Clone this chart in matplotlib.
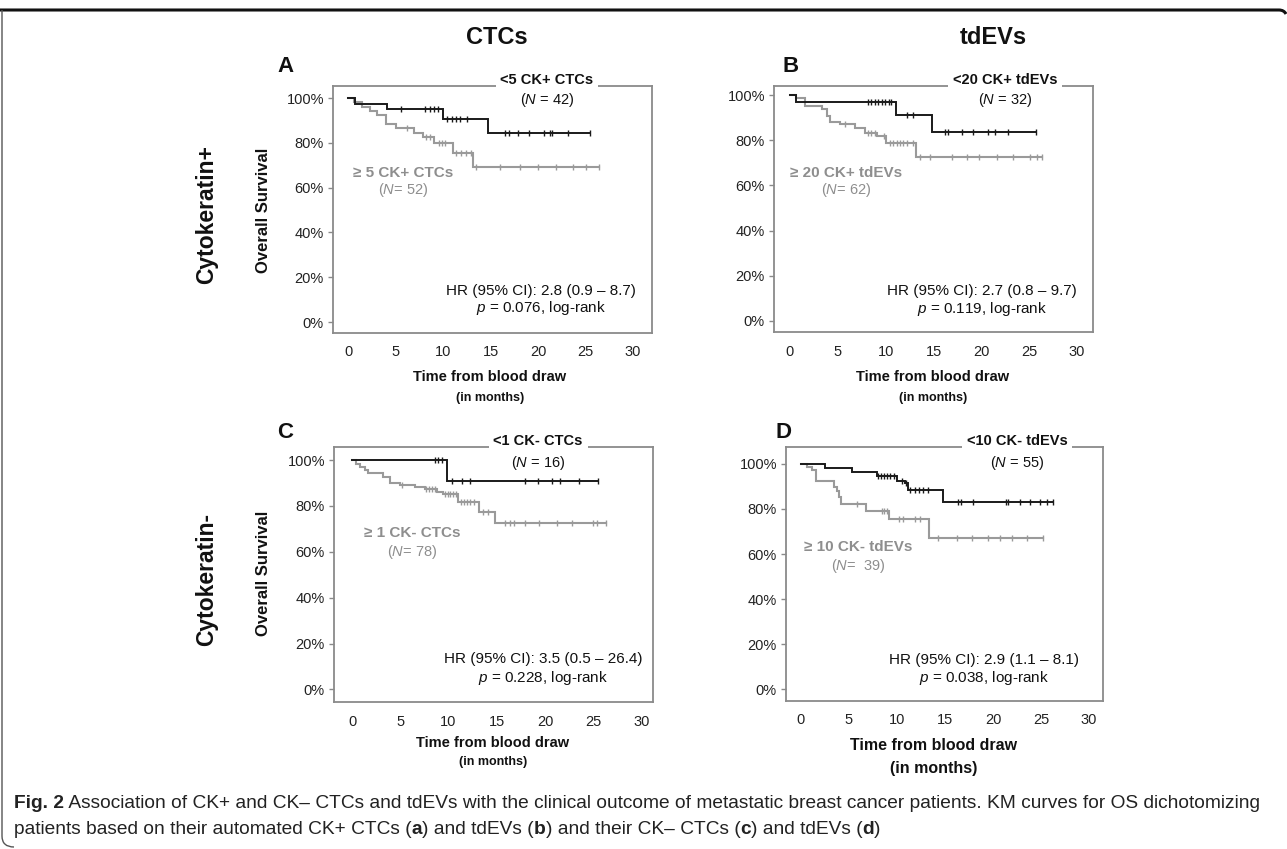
import numpy as np
import matplotlib
matplotlib.use('Agg')
import matplotlib.pyplot as plt
from matplotlib import font_manager
from matplotlib.path import Path
from matplotlib.patches import PathPatch
from matplotlib.lines import Line2D

# ---------------- data ----------------
x_ticks = [0, 5, 10, 15, 20, 25, 30]
y_ticks = [0, 20, 40, 60, 80, 100]
y_tick_labels = ['0%', '20%', '40%', '60%', '80%', '100%']

# Panel A (CK+ CTCs)
A_low_t = [0, 0.7, 4.1, 10.0, 14.7, 25.5]
A_low_s = [100, 97.4, 95.2, 90.7, 84.3, 84.3]
A_low_c = [5.6, 8.1, 8.6, 9.0, 9.5, 10.4, 10.9, 11.4, 11.8, 12.5, 16.5, 16.9, 17.9,
           19.1, 20.6, 21.3, 21.5, 23.2, 25.5]
A_high_t = [0, 0.6, 1.5, 2.3, 3.0, 4.0, 5.1, 6.9, 7.9, 9.1, 11.1, 13.2, 26.4]
A_high_s = [100, 98.1, 96.2, 94.2, 92.3, 88.5, 86.5, 84.6, 82.7, 80.0, 75.3, 69.3, 69.3]
A_high_c = [6.2, 8.2, 8.6, 9.6, 9.9, 10.2, 11.4, 11.9, 12.4, 12.9, 13.5, 16.0, 18.1,
            20.0, 21.9, 23.7, 25.1, 26.4]

# Panel B (CK+ tdEVs)
B_low_t = [0, 0.6, 11.1, 14.8, 25.7]
B_low_s = [100, 96.9, 91.0, 83.6, 83.6]
B_low_c = [8.2, 8.5, 8.9, 9.2, 9.6, 9.9, 10.3, 10.6, 12.2, 12.9, 16.2, 16.5, 18.0,
           19.1, 20.7, 21.4, 22.8, 25.7]
B_high_t = [0, 0.6, 1.6, 3.3, 3.9, 4.2, 5.2, 6.8, 7.8, 9.1, 10.0, 13.2, 26.3]
B_high_s = [100, 98.5, 95.1, 93.7, 90.7, 88.2, 87.0, 85.3, 83.3, 81.9, 78.9, 72.7, 72.7]
B_high_c = [5.8, 8.2, 8.5, 8.9, 9.8, 10.4, 10.8, 11.2, 11.5, 11.8, 12.2, 12.9, 13.6,
            14.6, 16.9, 18.5, 19.7, 21.6, 23.3, 25.1, 25.8, 26.3]

# Panel C (CK- CTCs)
C_low_t = [0, 9.8, 25.5]
C_low_s = [100, 90.9, 90.9]
C_low_c = [8.6, 8.9, 9.3, 10.4, 11.4, 12.2, 17.9, 19.3, 20.7, 21.6, 23.5, 25.5]
C_high_t = [0, 0.4, 0.8, 1.35, 1.7, 3.25, 3.9, 5.0, 6.5, 7.6, 8.8, 9.4, 11.0, 13.2, 14.8, 26.3]
C_high_s = [100, 98.5, 97.1, 95.6, 94.5, 92.7, 89.8, 89.1, 88.1, 87.2, 86.2, 85.0, 81.8,
            77.5, 72.7, 72.7]
C_high_c = [5.2, 7.7, 8.0, 8.3, 8.6, 9.6, 9.9, 10.2, 10.5, 10.8, 11.3, 11.6, 11.9, 12.2,
            12.6, 13.6, 14.1, 15.9, 16.4, 16.8, 17.9, 19.4, 21.2, 22.8, 25.0, 25.4, 26.3]

# Panel D (CK- tdEVs)
D_low_t = [0, 2.5, 5.3, 7.9, 10.0, 10.8, 11.1, 14.8, 26.3]
D_low_s = [100, 98.2, 96.4, 94.6, 92.6, 91.4, 88.4, 82.9, 82.9]
D_low_c = [8.0, 8.3, 8.6, 9.0, 9.3, 9.7, 10.5, 10.9, 11.4, 11.9, 12.3, 12.7, 13.2, 16.4,
           16.7, 17.9, 21.4, 21.6, 22.8, 23.9, 24.9, 25.6, 26.3]
D_high_t = [0, 0.6, 1.1, 1.6, 3.4, 3.8, 4.0, 4.2, 6.8, 9.2, 13.3, 25.2]
D_high_s = [100, 98.8, 97.3, 92.2, 89.8, 88.1, 85.1, 82.0, 79.3, 75.4, 67.0, 67.0]
D_high_c = [5.8, 8.4, 8.7, 9.0, 10.2, 10.6, 11.9, 12.4, 14.3, 16.2, 17.8, 19.5, 20.7,
            22.0, 23.5, 25.2]

low_labels = ['<5 CK+ CTCs', '<20 CK+ tdEVs', '<1 CK- CTCs', '<10 CK- tdEVs']
low_n = ['42', '32', '16', '55']
high_labels = ['\u2265 5 CK+ CTCs', '\u2265 20 CK+ tdEVs', '\u2265 1 CK- CTCs', '\u2265 10 CK- tdEVs']
high_n = ['52', '62', '78', ' 39']
hr_texts = ['HR (95% CI): 2.8 (0.9 \u2013 8.7)', 'HR (95% CI): 2.7 (0.8 \u2013 9.7)',
            'HR (95% CI): 3.5 (0.5 \u2013 26.4)', 'HR (95% CI): 2.9 (1.1 \u2013 8.1)']
p_texts = ['0.076', '0.119', '0.228', '0.038']
panel_letters = ['A', 'B', 'C', 'D']

# ---------------- style ----------------
W, H = 1287, 849
plt.rcParams['font.family'] = ['Liberation Sans', 'DejaVu Sans']
plt.rcParams['mathtext.fontset'] = 'custom'
plt.rcParams['mathtext.rm'] = 'Liberation Sans'
plt.rcParams['mathtext.it'] = 'Liberation Sans:italic'
plt.rcParams['mathtext.bf'] = 'Liberation Sans:bold'

BLACK = '#1a1a1a'
GRAY = '#9a9a9a'
GRAYTXT = '#8e8e8e'
SPINE = '#8a8a8a'

fig = plt.figure(figsize=(W / 100, H / 100), dpi=100)


def fx(x):
    return x / W


def fy(y):
    return 1 - y / H


# panel geometry in pixels: left, right, top, bottom ; xlim ; ylim
geo = [
    dict(box=(333, 652, 86, 333), xlim=(-1.58, 32.0), ylim=(-4.9, 105.4),
         title_x=0.671, gray_xy=(0.219, 0.648, 0.579), hr_xy=(0.652, 0.17, 0.101)),
    dict(box=(774, 1093, 86, 332), xlim=(-1.67, 31.66), ylim=(-4.9, 104.0),
         title_x=0.724, gray_xy=(0.226, 0.648, 0.579), hr_xy=(0.652, 0.167, 0.093)),
    dict(box=(334, 653, 447, 702), xlim=(-1.87, 31.2), ylim=(-5.5, 105.7),
         title_x=0.640, gray_xy=(0.245, 0.663, 0.588), hr_xy=(0.655, 0.169, 0.094)),
    dict(box=(786, 1103, 447, 701), xlim=(-1.56, 31.46), ylim=(-5.2, 107.5),
         title_x=0.729, gray_xy=(0.227, 0.606, 0.531), hr_xy=(0.625, 0.161, 0.091)),
]
series = [
    ((A_low_t, A_low_s, A_low_c), (A_high_t, A_high_s, A_high_c)),
    ((B_low_t, B_low_s, B_low_c), (B_high_t, B_high_s, B_high_c)),
    ((C_low_t, C_low_s, C_low_c), (C_high_t, C_high_s, C_high_c)),
    ((D_low_t, D_low_s, D_low_c), (D_high_t, D_high_s, D_high_c)),
]


def km(ax, t, s, c, color, lw):
    t = np.asarray(t, float)
    s = np.asarray(s, float)
    ax.step(t, s, where='post', color=color, lw=lw, solid_joinstyle='miter', zorder=3)
    c = np.asarray(c, float)
    idx = np.searchsorted(t, c, side='right') - 1
    ax.plot(c, s[idx], ls='none', marker='|', ms=5, mew=1.0, color=color, zorder=3)


for i, g in enumerate(geo):
    l, r, t, b = g['box']
    ax = fig.add_axes([fx(l), fy(b), (r - l) / W, (b - t) / H])
    ax.set_xlim(*g['xlim'])
    ax.set_ylim(*g['ylim'])
    for sp in ax.spines.values():
        sp.set_color(SPINE)
        sp.set_linewidth(1.3)
    ax.set_xticks(x_ticks)
    ax.set_xticklabels([str(v) for v in x_ticks])
    ax.set_yticks(y_ticks)
    ax.set_yticklabels(y_tick_labels)
    ax.tick_params(axis='x', length=0, pad=9, labelsize=10.5, labelcolor='#222222')
    ax.tick_params(axis='y', length=3.5, width=1, color=SPINE, pad=3, labelsize=10.5,
                   labelcolor='#222222')

    (lt, ls_, lc), (ht, hs, hc) = series[i]
    km(ax, ht, hs, hc, GRAY, 1.5)
    km(ax, lt, ls_, lc, BLACK, 1.4)

    # title interrupting top spine
    ax.text(g['title_x'], 1.024 if i < 2 else 1.024, low_labels[i], transform=ax.transAxes,
            ha='center', va='center', fontsize=10.5, fontweight='bold', color='#111111',
            bbox=dict(fc='white', ec='none', pad=3.5), zorder=6, clip_on=False)
    ax.text(g['title_x'], 0.945 if i < 2 else 0.936, '($\\it{N}$ = %s)' % low_n[i],
            transform=ax.transAxes, ha='center', va='center', fontsize=10.5, color='#111111')

    gx, gy1, gy2 = g['gray_xy']
    ax.text(gx, gy1, high_labels[i], transform=ax.transAxes, ha='center', va='center',
            fontsize=11, fontweight='bold', color=GRAYTXT)
    ax.text(gx, gy2, '($\\it{N}$= %s)' % high_n[i], transform=ax.transAxes, ha='center',
            va='center', fontsize=10.5, color=GRAYTXT)

    hx, hy1, hy2 = g['hr_xy']
    ax.text(hx, hy1, hr_texts[i], transform=ax.transAxes, ha='center', va='center',
            fontsize=11, color='#111111')
    ax.text(hx, hy2, '$\\it{p}$ = %s, log-rank' % p_texts[i], transform=ax.transAxes,
            ha='center', va='center', fontsize=11, color='#111111')

# panel letters
for (x, y), lab in zip([(285, 67), (791, 67), (285, 433), (783, 433)], panel_letters):
    fig.text(fx(x), fy(y), lab, ha='center', va='center', fontsize=16, fontweight='bold',
             color='#111111')

# column headers
fig.text(fx(497), fy(37), 'CTCs', ha='center', va='center', fontsize=17, fontweight='bold',
         color='#111111')
fig.text(fx(993), fy(37), 'tdEVs', ha='center', va='center', fontsize=17, fontweight='bold',
         color='#111111')

# row labels
fig.text(fx(207), fy(215), 'Cytokeratin+', rotation=90, ha='center', va='center',
         fontsize=16.5, fontweight='bold', color='#111111')
fig.text(fx(207), fy(580), 'Cytokeratin-', rotation=90, ha='center', va='center',
         fontsize=16.5, fontweight='bold', color='#111111')

# y labels
fig.text(fx(264), fy(210), 'Overall Survival', rotation=90, ha='center', va='center',
         fontsize=12, fontweight='bold', color='#111111')
fig.text(fx(263), fy(573), 'Overall Survival', rotation=90, ha='center', va='center',
         fontsize=12, fontweight='bold', color='#111111')

# x labels
xl = [(490, 377, 398, 10.5, 9), (933, 377, 398, 10.5, 9), (493, 743, 762, 10.5, 9),
      (934, 746, 768, 11.5, 11.5)]
for x, y1, y2, s1, s2 in xl:
    fig.text(fx(x), fy(y1), 'Time from blood draw', ha='center', va='center', fontsize=s1,
             fontweight='bold', color='#111111')
    fig.text(fx(x), fy(y2), '(in months)', ha='center', va='center', fontsize=s2,
             fontweight='bold', color='#111111')

# figure frame
top = Path([(fx(0), fy(10)), (fx(1279), fy(10)), (fx(1284), fy(10)), (fx(1286), fy(14))],
           [Path.MOVETO, Path.LINETO, Path.CURVE3, Path.CURVE3])
fig.add_artist(PathPatch(top, transform=fig.transFigure, fc='none', ec='#111111', lw=2.2))
left = Path([(fx(2), fy(10)), (fx(2), fy(836)), (fx(2), fy(847)), (fx(14), fy(847))],
            [Path.MOVETO, Path.LINETO, Path.CURVE3, Path.CURVE3])
fig.add_artist(PathPatch(left, transform=fig.transFigure, fc='none', ec='#555555', lw=1.0))

# caption
names = {f.name for f in font_manager.fontManager.ttflist}
cap_font = ['Liberation Sans Narrow', 'DejaVu Sans'] if 'Liberation Sans Narrow' in names \
    else ['Liberation Sans', 'DejaVu Sans']

line1 = [('Fig. 2', 'bold'),
         (' Association of CK+ and CK\u2013 CTCs and tdEVs with the clinical outcome of metastatic '
          'breast cancer patients. KM curves for OS dichotomizing', 'normal')]
line2 = [('patients based on their automated CK+ CTCs (', 'normal'), ('a', 'bold'),
         (') and tdEVs (', 'normal'), ('b', 'bold'), (') and their CK\u2013 CTCs (', 'normal'),
         ('c', 'bold'), (') and tdEVs (', 'normal'), ('d', 'bold'), (')', 'normal')]

renderer = fig.canvas.get_renderer()


def run_width(runs, fs):
    w = 0
    for txt, wt in runs:
        tt = fig.text(0, 0, txt, fontsize=fs, fontweight=wt, family=cap_font)
        w += tt.get_window_extent(renderer).width
        tt.remove()
    return w


w10 = run_width(line1, 10)
cap_fs = 10 * 1256 / w10


def draw_runs(runs, x0, y, fs):
    x = x0
    for txt, wt in runs:
        tt = fig.text(fx(x), fy(y), txt, fontsize=fs, fontweight=wt, family=cap_font,
                      ha='left', va='center', color='#222222')
        x += tt.get_window_extent(renderer).width


draw_runs(line1, 14, 803, cap_fs)
draw_runs(line2, 14, 829, cap_fs)

fig.savefig('out.png', dpi=100)
